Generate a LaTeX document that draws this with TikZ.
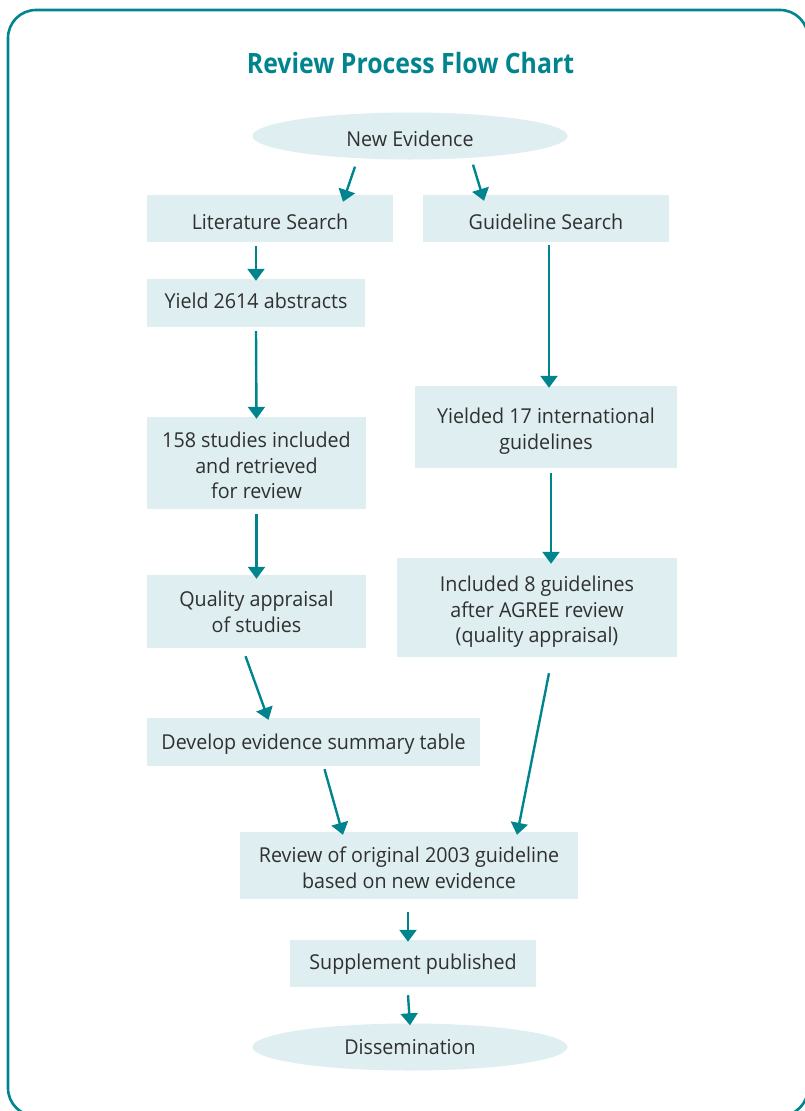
\documentclass[tikz,border=0pt]{standalone}
\usepackage{fontspec}
\setmainfont{Open Sans}[FakeStretch=0.96]
\newfontfamily\titlefont{Open Sans Bold}[FakeStretch=0.886]
\usetikzlibrary{arrows.meta,shapes.geometric}
\definecolor{teal}{HTML}{00858E}
\definecolor{boxfill}{HTML}{DEEEF1}
\definecolor{txt}{HTML}{303030}
\tikzset{
  stepbox/.style={rectangle, fill=boxfill, inner sep=0pt},
  ovalbox/.style={ellipse, fill=boxfill, inner sep=0pt,
    minimum width=315pt, minimum height=47pt},
  txtlbl/.style={text=txt, align=center, inner sep=0pt,
    font=\fontsize{20.5}{25.5}\selectfont},
  flow/.style={draw=teal, line width=2.4pt, -{Triangle[width=17pt,length=12pt]}, fill=teal},
}
\begin{document}
\begin{tikzpicture}[x=1pt,y=-1pt]
\useasboundingbox (0,0) rectangle (804,1111);
\draw[teal, line width=2.6pt, rounded corners=28pt] (8,10) rectangle (808,1116);

\node[text=teal, inner sep=0pt, font=\titlefont\fontsize{28}{30}\selectfont] (title) at (410.5,63) {Review Process Flow Chart};

\node[ovalbox, label={[txtlbl,yshift=-5.2pt]center:{\strut New Evidence}}] (ne) at (410,136) {};
\node[stepbox, minimum width=246pt, minimum height=47pt, label={[txtlbl,yshift=-5.7pt]center:{\strut Literature Search}}] (lit) at (270,218.5) {};
\node[stepbox, minimum width=246pt, minimum height=47pt, label={[txtlbl,yshift=-5.7pt]center:{\strut Guideline Search}}] (gs) at (546,218.5) {};
\node[stepbox, minimum width=218pt, minimum height=48pt, label={[txtlbl,yshift=-0.7pt]center:{\strut Yield 2614 abstracts}}] (yield) at (256,303) {};
\node[stepbox, minimum width=219pt, minimum height=92pt, label={[txtlbl,yshift=-5.2pt]center:{\strut 158 studies included\\and retrieved\\for review\strut}}] (stud) at (256.5,463) {};
\node[stepbox, minimum width=219pt, minimum height=73pt, label={[txtlbl,yshift=-2.7pt]center:{\strut Quality appraisal\\of studies\strut}}] (qual) at (256.5,611.5) {};
\node[stepbox, minimum width=262pt, minimum height=82pt, label={[txtlbl,yshift=-4.2pt]center:{\strut Yielded 17 international\\guidelines\strut}}] (y17) at (546,427) {};
\node[stepbox, minimum width=280pt, minimum height=99pt, label={[txtlbl,yshift=-4.7pt]center:{\strut Included 8 guidelines\\after AGREE review\\(quality appraisal)\strut}}] (inc) at (537,607.5) {};
\node[stepbox, minimum width=333pt, minimum height=48pt, label={[txtlbl,yshift=-2.2pt]center:{\strut Develop evidence summary table}}] (dev) at (313.5,742) {};
\node[stepbox, minimum width=338pt, minimum height=67pt, label={[txtlbl,yshift=-4.7pt]center:{\strut Review of original 2003 guideline\\based on new evidence\strut}}] (rev) at (409,865.5) {};
\node[stepbox, minimum width=246pt, minimum height=47pt, label={[txtlbl,yshift=-1.2pt]center:{\strut Supplement published}}] (sup) at (413,963.5) {};
\node[ovalbox, label={[txtlbl,yshift=-2.2pt]center:{\strut Dissemination}}] (dis) at (410,1047) {};

\draw[flow] ([xshift=-55pt,yshift=-7pt]ne.south) -- ([xshift=73pt,yshift=-7pt]lit.north);
\draw[flow] ([xshift=63pt,yshift=-5pt]ne.south) -- ([xshift=-62pt,yshift=-6pt]gs.north);
\draw[flow] ([yshift=-4pt]lit.south -| yield.north) -- ([yshift=-2pt]yield.north);
\draw[flow] ([yshift=-4pt]yield.south) -- ([yshift=-2pt]stud.north);
\draw[flow] ([yshift=-5pt]stud.south) -- ([yshift=-4pt]qual.north);
\draw[flow] ([xshift=-11pt,yshift=-8pt]qual.south) -- ([xshift=-45pt,yshift=-2pt]dev.north);
\draw[flow] ([xshift=3pt,yshift=-3pt]gs.south) -- ([xshift=3pt,yshift=-2pt]y17.north);
\draw[flow] ([xshift=5pt,yshift=-5pt]y17.south) -- ([xshift=14pt,yshift=-6pt]inc.north);
\draw[flow] ([xshift=12pt,yshift=-16pt]inc.south) -- ([xshift=108pt,yshift=-3pt]rev.north);
\draw[flow] ([xshift=11pt,yshift=-3pt]dev.south) -- ([xshift=-66pt,yshift=-3pt]rev.north);
\draw[flow] ([xshift=-1pt,yshift=-13pt]rev.south) -- ([xshift=-5pt,yshift=-2pt]sup.north);
\draw[flow] ([xshift=-5pt,yshift=-8pt]sup.south) -- ([yshift=-2pt]dis.north);
\end{tikzpicture}
\end{document}
